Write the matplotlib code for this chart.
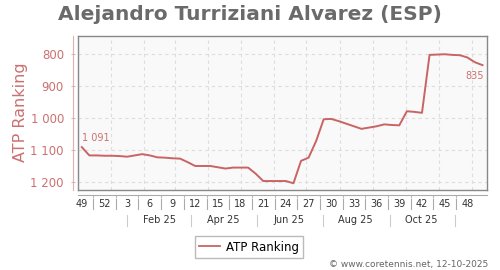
import datetime as dt
import matplotlib
matplotlib.use("Agg")
import matplotlib.pyplot as plt
from matplotlib.lines import Line2D

# weekly ATP ranking, week 49/2024 .. week 50/2025
week_numbers = [49, 50, 51, 52] + list(range(1, 51))
ranking = [1091, 1117, 1117, 1118, 1118, 1119, 1121, 1117, 1113, 1117,
           1123, 1124, 1126, 1127, 1138, 1150, 1150, 1150, 1154, 1158,
           1155, 1155, 1155, 1174, 1197, 1197, 1197, 1197, 1204, 1134,
           1124, 1072, 1004, 1003, 1010, 1018, 1026, 1034, 1030, 1026,
           1020, 1022, 1023, 979, 981, 984, 803, 802, 801, 803,
           804, 811, 826, 835]
y_ticks = [800, 900, 1000, 1100, 1200]
month_labels = ["Feb 25", "Apr 25", "Jun 25", "Aug 25", "Oct 25"]

RED = "#c86464"
LRED = "#cc7070"
GRID = "#dddddd"

origin = dt.date(2024, 12, 5)
XLIM = (-0.5, 53.6)
YLIM = (1225, 744)


def date_x(d):
    return (d - origin).days / 7.0


def fmt(v):
    return f"{v:,}".replace(",", " ")


W, H = 500, 270
fig = plt.figure(figsize=(5, 2.7), dpi=100)
fig.patch.set_facecolor("white")

L, R, T, B = 78, 487, 36, 190
ax = fig.add_axes([L / W, 1 - B / H, (R - L) / W, (B - T) / H])
ax.set_facecolor("#f9f9f9")

x = list(range(len(ranking)))
ax.plot(x, ranking, color=RED, lw=1.4, solid_joinstyle="round")

ax.set_xlim(*XLIM)
ax.set_ylim(*YLIM)

# grid
for v in y_ticks:
    ax.axhline(v, color=GRID, lw=0.8, ls=(0, (3, 3)), zorder=0)
for m in range(1, 13):
    ax.axvline(date_x(dt.date(2025, m, 1)), color=GRID, lw=0.8, ls=(0, (3, 3)), zorder=0)

for s in ax.spines.values():
    s.set_color("#888888")
    s.set_linewidth(1.0)
ax.set_xticks([])
ax.set_yticks([])

# y axis, offset to the left
ay = fig.add_axes([73 / W, 1 - B / H, 0.0001, (B - T) / H])
ay.patch.set_visible(False)
for k in ["top", "right", "bottom"]:
    ay.spines[k].set_visible(False)
ay.spines["left"].set_color("#e0b0b0")
ay.set_xticks([])
ay.set_ylim(*YLIM)
ay.set_yticks(y_ticks)
ay.set_yticklabels([fmt(v) for v in y_ticks])
ay.tick_params(axis="y", colors="#e0b0b0", labelcolor=LRED, labelsize=8.5,
               length=3, direction="inout", pad=5)
fig.text(21 / W, 1 - 112 / H, "ATP Ranking", rotation=90, color=LRED,
         fontsize=11.5, ha="center", va="center")

# x axis line below the frame
axx = fig.add_axes([L / W, 1 - 195 / H, (R - L) / W, 0.0001])
axx.patch.set_visible(False)
for k in ["top", "right", "left"]:
    axx.spines[k].set_visible(False)
axx.spines["bottom"].set_color("#aaaaaa")
axx.set_yticks([])
axx.set_xlim(*XLIM)
axx.set_xticks([i + 1.5 for i in range(0, 51, 3)])
axx.tick_params(axis="x", length=2, color="#bbbbbb", labelbottom=False)

tr = ax.get_xaxis_transform()
for i in range(0, len(week_numbers), 3):
    ax.text(i, 1 - (204 - T) / (B - T), str(week_numbers[i]), transform=tr,
            ha="center", va="center", fontsize=7, color="#333333")
for i in range(0, 51, 3):
    ax.plot([i + 1.5, i + 1.5], [1 - (199 - T) / (B - T), 1 - (209 - T) / (B - T)],
            transform=tr, color="#aaaaaa", lw=0.8, clip_on=False)

for k, lab in enumerate(month_labels):
    ax.text(date_x(dt.date(2025, 2 + 2 * k, 15)), 1 - (220 - T) / (B - T), lab,
            transform=tr, ha="center", va="center", fontsize=7, color="#333333")
for k in range(6):
    xs = date_x(dt.date(2025, 1 + 2 * k, 16))
    ax.plot([xs, xs], [1 - (215 - T) / (B - T), 1 - (226 - T) / (B - T)],
            transform=tr, color="#cccccc", lw=0.8, clip_on=False)

# end labels
ax.annotate(fmt(ranking[0]), (0, ranking[0]), xytext=(0, 3), textcoords="offset points",
            ha="left", va="bottom", fontsize=7, color=LRED)
ax.annotate(fmt(ranking[-1]), (len(ranking) - 1, ranking[-1]), xytext=(1, -4),
            textcoords="offset points", ha="right", va="top", fontsize=7, color=LRED)

fig.text(250 / W, 1 - 15 / H, "Alejandro Turriziani Alvarez (ESP)", ha="center",
         va="center", fontsize=14.5, fontweight="bold", color="#6a6a6a")

handle = Line2D([], [], color=RED, lw=1.3)
fig.legend([handle], ["ATP Ranking"], loc="center", bbox_to_anchor=(249 / W, 1 - 247 / H),
           fontsize=8.5, frameon=True, fancybox=False, edgecolor="#aaaaaa",
           handlelength=1.8, handletextpad=0.5, borderpad=0.35)

fig.text(488 / W, 1 - 265 / H, "\u00a9 www.coretennis.net, 12-10-2025", ha="right",
         va="center", fontsize=6.5, color="#666666")

fig.savefig("out.png", dpi=100)
